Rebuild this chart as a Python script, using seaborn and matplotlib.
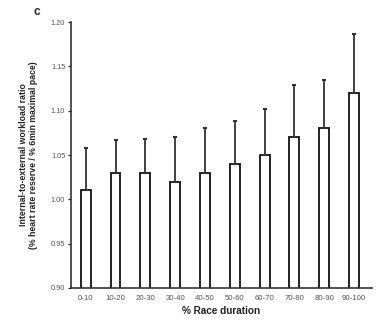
import matplotlib
matplotlib.use("Agg")
import matplotlib.pyplot as plt
import seaborn as sns
import numpy as np
import pandas as pd

categories = ["0-10", "10-20", "20-30", "30-40", "40-50", "50-60", "60-70", "70-80", "80-90", "90-100"]
means = [1.01, 1.03, 1.03, 1.02, 1.03, 1.04, 1.05, 1.07, 1.08, 1.12]
upper = [1.058, 1.067, 1.068, 1.070, 1.080, 1.088, 1.102, 1.129, 1.135, 1.186]
yticks = [0.90, 0.95, 1.00, 1.05, 1.10, 1.15, 1.20]

sns.set_style("ticks")
plt.rcParams['font.family'] = ['Liberation Sans', 'DejaVu Sans']

df = pd.DataFrame({"cat": categories, "val": means})
fig = plt.figure(figsize=(3.85, 3.2), dpi=100)
ax = fig.add_axes([0.184, 0.10, 0.782, 0.831])

sns.barplot(data=df, x="cat", y="val", color="white", edgecolor="#111111",
            linewidth=1.3, width=0.33, ax=ax, errorbar=None)
err = np.array(upper) - np.array(means)
ax.errorbar(np.arange(len(categories)), means, yerr=[np.zeros(len(err)), err],
            fmt="none", ecolor="#333333", elinewidth=1.3, capsize=1.5, capthick=1.5, zorder=1)

ax.set_ylim(0.90, 1.20)
ax.set_xlim(-0.5, 9.6)
ax.set_yticks(yticks)
ax.set_yticklabels([f"{t:.2f}" for t in yticks], fontsize=5.3, color="#555555")
ax.tick_params(axis="y", length=2, width=0.9, pad=2)
ax.tick_params(axis="x", length=0, labelsize=5.6, pad=5, colors="#555555")
sns.despine(ax=ax)
for s in ["left", "bottom"]:
    ax.spines[s].set_linewidth(1.2)
    ax.spines[s].set_color("#333333")

ax.set_xlabel("% Race duration", fontsize=7.2, fontweight="bold", labelpad=3, color="#222222")
ax.set_ylabel("Internal-to-external workload ratio\n(% heart rate reserve / % 6min maximal pace)",
              fontsize=6.3, fontweight="bold", labelpad=9, color="#222222")
fig.text(0.088, 0.953, "c", fontsize=8.5, fontweight="bold")

fig.savefig("out.png", dpi=100)
